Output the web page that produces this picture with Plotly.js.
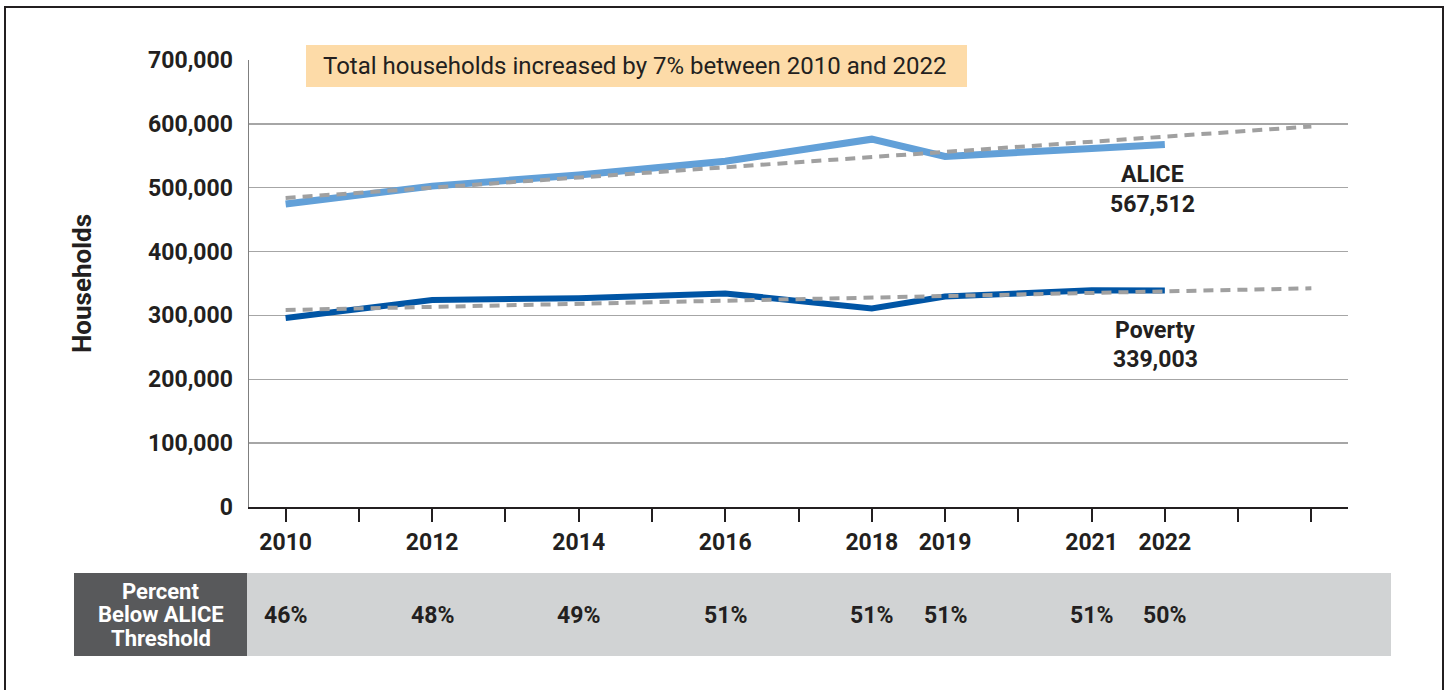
<!DOCTYPE html>
<html>
<head>
<meta charset="utf-8">
<script src="https://cdn.plot.ly/plotly-3.0.1.min.js"></script>
<style>
html,body{margin:0;padding:0;background:#fff;}
#chart{width:1448px;height:690px;}
</style>
</head>
<body>
<div id="chart"></div>
<script>
// ---- data ----
const years = [2010, 2012, 2014, 2016, 2018, 2019, 2021, 2022];
const aliceValues = [474500, 502500, 520000, 541500, 576000, 549000, 561500, 567512];
const povertyValues = [296000, 324000, 327000, 334500, 311000, 329500, 339500, 339003];
const trendYears = [2010, 2024];
const aliceTrend = [484000, 596000];
const povertyTrend = [308500, 342500];
const pctYears = [2010, 2012, 2014, 2016, 2018, 2019, 2021, 2022];
const pctValues = ['46%', '48%', '49%', '51%', '51%', '51%', '51%', '50%'];
const tickYears = [2010,2011,2012,2013,2014,2015,2016,2017,2018,2019,2020,2021,2022,2023,2024];
const tickLabels = tickYears.map(y => years.includes(y) ? String(y) : '');
const yTicks = [0,100000,200000,300000,400000,500000,600000,700000];
const yTickLabels = ['0','100,000','200,000','300,000','400,000','500,000','600,000','700,000'];
const headline = 'Total households increased by 7% between 2010 and 2022';
const aliceLabel = 'ALICE';
const aliceLast = '567,512';
const povertyLabel = 'Poverty';
const povertyLast = '339,003';
const rowHeaderLines = ['Percent', 'Below ALICE', 'Threshold'];

// ---- layout helpers (pixel -> paper) ----
const L = 249, R = 1348, T = 60, B = 507;
const W = R - L, H = B - T;
const px = p => (p - L) / W;
const py = p => (B - p) / H;
const FONT = 'Roboto, "Open Sans", sans-serif';
const DARK = '#231F20';

const traces = [
  {x: years, y: aliceValues, mode: 'lines', line: {color: '#62A0D8', width: 7}, hoverinfo: 'x+y'},
  {x: years, y: povertyValues, mode: 'lines', line: {color: '#0055A5', width: 6}, hoverinfo: 'x+y'},
  {x: trendYears, y: aliceTrend, mode: 'lines', line: {color: '#A0A0A0', width: 4, dash: '10px,7px'}, hoverinfo: 'skip'},
  {x: trendYears, y: povertyTrend, mode: 'lines', line: {color: '#A0A0A0', width: 4, dash: '10px,7px'}, hoverinfo: 'skip'}
];

const ann = (x, y, text, size, color, extra) => Object.assign({
  xref: 'paper', yref: 'paper', x: px(x), y: py(y), text: text, showarrow: false,
  font: {family: FONT, size: size, color: color}, xanchor: 'center', yanchor: 'middle'
}, extra || {});

const annotations = [
  ann(634, 66, headline, 24, DARK),
  ann(82, 283, '<b>Households</b>', 26, DARK, {textangle: -90}),
  ann(1152, 174, '<b>' + aliceLabel + '</b>', 23, DARK),
  ann(1152, 204, '<b>' + aliceLast + '</b>', 23, DARK),
  ann(1155, 330, '<b>' + povertyLabel + '</b>', 23, DARK),
  ann(1155, 360, '<b>' + povertyLast + '</b>', 23, DARK)
];
const headerY = [591, 614, 638];
rowHeaderLines.forEach((t, i) => annotations.push(ann(160.5, headerY[i], '<b>' + t + '</b>', 22, '#FFFFFF')));
pctYears.forEach((yr, i) => {
  annotations.push({xref: 'x', yref: 'paper', x: yr, y: py(615), text: '<b>' + pctValues[i] + '</b>', showarrow: false,
    font: {family: FONT, size: 23, color: DARK}, xanchor: 'center', yanchor: 'middle'});
});

const shapes = [
  {type: 'rect', xref: 'paper', yref: 'paper', x0: px(306), x1: px(967), y0: py(45), y1: py(87),
   fillcolor: '#FDDBA8', line: {width: 0}, layer: 'above'},
  {type: 'rect', xref: 'paper', yref: 'paper', x0: px(247), x1: px(1391), y0: py(573), y1: py(656),
   fillcolor: '#D1D3D4', line: {width: 0}, layer: 'below'},
  {type: 'rect', xref: 'paper', yref: 'paper', x0: px(74), x1: px(247), y0: py(573), y1: py(656),
   fillcolor: '#58595B', line: {width: 0}, layer: 'below'},
  {type: 'rect', xref: 'paper', yref: 'paper', x0: px(5), x1: px(1443), y0: py(7), y1: py(700),
   fillcolor: 'rgba(0,0,0,0)', line: {color: DARK, width: 2}, layer: 'below'}
];

const layout = {
  width: 1448, height: 690,
  margin: {l: L, r: 1448 - R, t: T, b: 690 - B},
  paper_bgcolor: '#FFFFFF', plot_bgcolor: '#FFFFFF',
  showlegend: false,
  font: {family: FONT, color: DARK},
  xaxis: {
    range: [2009.5, 2024.5], tickmode: 'array', tickvals: tickYears, ticktext: tickLabels,
    showgrid: false, zeroline: false, showline: true, linecolor: DARK, linewidth: 2,
    ticks: 'outside', ticklen: 13, tickwidth: 2, tickcolor: DARK,
    tickfont: {family: FONT, size: 23, color: DARK, weight: 'bold'}, ticklabelstandoff: 0
  },
  yaxis: {
    range: [0, 700000], tickmode: 'array', tickvals: yTicks, ticktext: yTickLabels,
    showgrid: true, gridcolor: '#A6A6A6', gridwidth: 1.5, zeroline: false,
    showline: true, linecolor: '#7F7F7F', linewidth: 1.5, ticks: '',
    tickfont: {family: FONT, size: 23, color: DARK, weight: 'bold'}, ticklabelstandoff: 10
  },
  annotations: annotations,
  shapes: shapes
};

Plotly.newPlot('chart', traces, layout, {displayModeBar: false, staticPlot: true});
</script>
</body>
</html>
